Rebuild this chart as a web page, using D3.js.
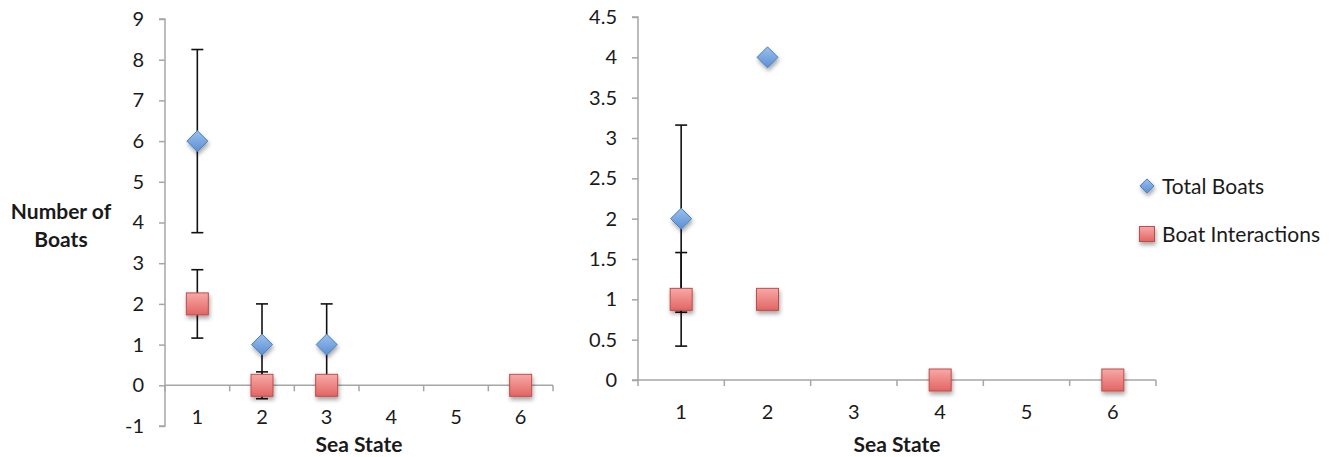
<!DOCTYPE html>
<html><head><meta charset="utf-8">
<script src="https://cdn.jsdelivr.net/npm/d3@7"></script>
<style>
html,body{margin:0;padding:0;background:#fff;}
text{font-family:Lato,"Open Sans",sans-serif;fill:#1a1a1a;}
</style></head>
<body>
<svg id="chart" width="1338" height="457"></svg>
<script>
// ---- data ----
const categories = [1, 2, 3, 4, 5, 6];
const leftYTicks = [-1, 0, 1, 2, 3, 4, 5, 6, 7, 8, 9];
const rightYTicks = [0, 0.5, 1, 1.5, 2, 2.5, 3, 3.5, 4, 4.5];
const leftTotal      = [6, 1, 1, null, null, null];
const leftTotalErr   = [2.25, 1, 1, 0, 0, 0];
const leftInter      = [2, 0, 0, null, null, 0];
const leftInterErr   = [0.84, 0.33, 0, 0, 0, 0];
const rightTotal     = [2, 4, null, null, null, null];
const rightTotalErr  = [1.16, 0, 0, 0, 0, 0];
const rightInter     = [1, 1, null, 0, null, 0];
const rightInterErr  = [0.58, 0, 0, 0, 0, 0];
const seriesNames = ["Total Boats", "Boat Interactions"];

const svg = d3.select("#chart");
const defs = svg.append("defs");
const f = defs.append("filter").attr("id","shadow").attr("x","-50%").attr("y","-50%").attr("width","200%").attr("height","200%");
f.append("feDropShadow").attr("dx",1).attr("dy",3).attr("stdDeviation",2).attr("flood-color","#000").attr("flood-opacity",0.35);
const gb = defs.append("linearGradient").attr("id","gBlue").attr("x1",0).attr("y1",0).attr("x2",0).attr("y2",1);
gb.append("stop").attr("offset","0%").attr("stop-color","#9cc0ec");
gb.append("stop").attr("offset","100%").attr("stop-color","#5a8fd6");
const gr = defs.append("linearGradient").attr("id","gRed").attr("x1",0).attr("y1",0).attr("x2",0).attr("y2",1);
gr.append("stop").attr("offset","0%").attr("stop-color","#f7a9a7");
gr.append("stop").attr("offset","100%").attr("stop-color","#e26563");

const axisColor = "#a6a6a6";

function panel(cfg) {
  const x = d3.scaleBand().domain(categories).range([cfg.x0, cfg.x1]).padding(0);
  const y = d3.scaleLinear().domain(cfg.yDomain).range([cfg.yBottom, cfg.yTop]);
  const g = svg.append("g");

  // y axis
  const ya = g.append("g").attr("transform", `translate(${cfg.x0},0)`)
    .call(d3.axisLeft(y).tickValues(cfg.yTicks).tickSize(6).tickPadding(15).tickFormat(d => String(d)));
  ya.selectAll("path,line").attr("stroke", axisColor).attr("stroke-width", 1.5);
  ya.select(".domain").attr("d", `M-6,${cfg.yTop}H0V${cfg.yBottom}H-6`);
  ya.selectAll("text").style("font-size","20px").attr("fill","#1a1a1a");

  // x axis at y=0
  const y0 = y(0);
  const xa = g.append("g").attr("transform", `translate(0,${y0})`)
    .call(d3.axisBottom(x).tickSize(0).tickPadding(25));
  xa.select(".domain").attr("stroke", axisColor).attr("stroke-width", 1.5).attr("d", `M${cfg.x0},0H${cfg.x1}`);
  xa.selectAll("text").style("font-size","20px").attr("fill","#1a1a1a");
  const bounds = categories.map(c => x(c)).concat([x(categories[categories.length-1]) + x.bandwidth()]);
  xa.selectAll("line.bt").data(bounds).join("line").attr("class","bt")
    .attr("x1", d => d).attr("x2", d => d).attr("y1", 0).attr("y2", 6)
    .attr("stroke", axisColor).attr("stroke-width", 1.5);

  // axis title
  g.append("text").attr("x", (cfg.x0 + cfg.x1) / 2).attr("y", cfg.titleY)
    .attr("text-anchor","middle").style("font-size","21px").style("font-weight","bold").text("Sea State");

  const cx = c => x(c) + x.bandwidth() / 2;
  const series = [
    {vals: cfg.total, err: cfg.totalErr, type: "diamond"},
    {vals: cfg.inter, err: cfg.interErr, type: "square"}
  ];
  // error bars
  series.forEach(s => {
    const pts = categories.map((c, i) => ({c, v: s.vals[i], e: s.err[i]})).filter(p => p.v !== null && p.e > 0);
    const eg = g.append("g").attr("stroke", "#111").attr("stroke-width", 1.6);
    pts.forEach(p => {
      eg.append("line").attr("x1", cx(p.c)).attr("x2", cx(p.c)).attr("y1", y(p.v - p.e)).attr("y2", y(p.v + p.e));
      [p.v - p.e, p.v + p.e].forEach(v => eg.append("line")
        .attr("x1", cx(p.c) - 6).attr("x2", cx(p.c) + 6).attr("y1", y(v)).attr("y2", y(v)));
    });
  });
  // markers
  series.forEach(s => {
    const pts = categories.map((c, i) => ({c, v: s.vals[i]})).filter(p => p.v !== null);
    const mg = g.append("g").attr("filter","url(#shadow)");
    pts.forEach(p => drawMarker(mg, s.type, cx(p.c), y(p.v), 1));
  });
}

function drawMarker(sel, type, px, py, scale) {
  if (type === "diamond") {
    const r = 10.5 * scale;
    sel.append("path").attr("d", `M${px},${py-r}L${px+r},${py}L${px},${py+r}L${px-r},${py}Z`)
      .attr("fill","url(#gBlue)").attr("stroke","#4a7ebb").attr("stroke-width",1);
  } else {
    const h = 11 * scale;
    sel.append("rect").attr("x", px-h).attr("y", py-h).attr("width", 2*h).attr("height", 2*h)
      .attr("fill","url(#gRed)").attr("stroke","#be4b48").attr("stroke-width",1);
  }
}

panel({x0:165, x1:553, yTop:19, yBottom:426, yDomain:[-1,9], yTicks:leftYTicks,
  total:leftTotal, totalErr:leftTotalErr, inter:leftInter, interErr:leftInterErr, titleY:452});
panel({x0:638, x1:1156, yTop:17, yBottom:380, yDomain:[0,4.5], yTicks:rightYTicks,
  total:rightTotal, totalErr:rightTotalErr, inter:rightInter, interErr:rightInterErr, titleY:452});

// y axis title (left)
const yt = svg.append("text").attr("text-anchor","middle").style("font-size","21px").style("font-weight","bold");
yt.append("tspan").attr("x", 61).attr("y", 219).text("Number of");
yt.append("tspan").attr("x", 61).attr("y", 247).text("Boats");

// legend
const leg = svg.append("g");
const legTypes = ["diamond","square"];
seriesNames.forEach((n, i) => {
  const ly = 186 + i * 48;
  const mg = leg.append("g").attr("filter","url(#shadow)");
  drawMarker(mg, legTypes[i], 1147, ly, 0.68);
  leg.append("text").attr("x", 1162).attr("y", ly + 8).style("font-size","21px").text(n);
});
</script>
</body></html>
